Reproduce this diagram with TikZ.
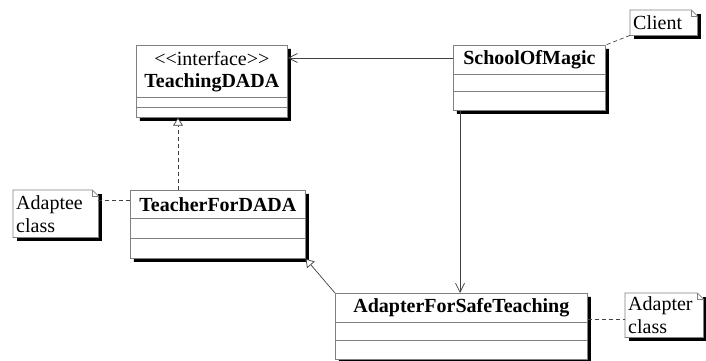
\documentclass[tikz,border=0pt]{standalone}
\usepackage{fontspec}
\setmainfont{Liberation Serif}
\usetikzlibrary{shapes.multipart,shadows,arrows.meta}

\newcommand{\umlpart}[3]{\parbox[c][#2][c]{#1}{\centering #3}}

\tikzset{
  umlshadow/.style={drop shadow={shadow xshift=3.5pt,shadow yshift=-3.5pt,fill=black,opacity=1}},
  umlclass/.style={rectangle split, rectangle split parts=3, draw=black!50, line width=.7pt,
    fill=white, inner sep=0pt, anchor=north west, umlshadow,
    font=\fontsize{20}{22}\selectfont\bfseries},
  umlnote/.style={rectangle, fill=white, inner xsep=3pt, inner ysep=0pt, anchor=north west,
    align=left, umlshadow, font=\fontsize{20}{23}\selectfont},
  noteedge/.style={draw=black!50, line width=.7pt},
  assoc/.style={draw=black!75, line width=.7pt, -{Straight Barb[length=9pt,width=9pt]}},
  realize/.style={draw=black!75, line width=.7pt, dash pattern=on 4pt off 3pt,
    -{Triangle[open,fill=white,length=8pt,width=10pt]}},
  inherit/.style={draw=black!75, line width=.7pt, -{Triangle[open,fill=white,length=8pt,width=10pt]}},
  anchorline/.style={draw=black!75, line width=.7pt, dash pattern=on 4pt off 3pt}
}

\begin{document}
\begin{tikzpicture}[x=1pt,y=-1pt]
 \useasboundingbox (0,0) rectangle (706,360);

 % classes
 \node[umlclass] (dada) at (136,45)
  {\umlpart{151pt}{51pt}{\textmd{<{}<interface>{}>}\\ TeachingDADA}
   \nodepart{two}\umlpart{151pt}{9pt}{}
   \nodepart{three}\umlpart{151pt}{8pt}{}};
 \node[umlclass] (school) at (453,45)
  {\umlpart{152pt}{28pt}{SchoolOfMagic}
   \nodepart{two}\umlpart{152pt}{17pt}{}
   \nodepart{three}\umlpart{152pt}{18pt}{}};
 \node[umlclass] (teacher) at (130,190)
  {\umlpart{175pt}{27pt}{TeacherForDADA}
   \nodepart{two}\umlpart{175pt}{20pt}{}
   \nodepart{three}\umlpart{175pt}{19pt}{}};
 \node[umlclass] (adapter) at (335,293)
  {\umlpart{252pt}{28pt}{AdapterForSafeTeaching}
   \nodepart{two}\umlpart{252pt}{18pt}{}
   \nodepart{three}\umlpart{252pt}{18pt}{}};

 % notes
 \node[umlnote, text width=61pt, minimum height=25pt] (client) at (630,10) {Client};
 \node[umlnote, text width=79pt, minimum height=47pt] (adaptee) at (13,190) {Adaptee\\class};
 \node[umlnote, text width=72pt, minimum height=44pt] (adapternote) at (625,293) {Adapter\\class};
 \foreach \n in {client,adaptee,adapternote} {
  \draw[noteedge] (\n.north west) -- ([xshift=-6pt]\n.north east) -- ([yshift=-6pt]\n.north east)
   -- (\n.south east) -- (\n.south west) -- cycle;
  \draw[noteedge] ([xshift=-6pt]\n.north east) |- ([yshift=-6pt]\n.north east);
 }

 % connectors
 \coordinate (s1) at ([yshift=-13pt]school.north west);
 \draw[assoc] (s1) -- (s1 -| dada.east);
 \coordinate (s2) at ([xshift=7pt]school.south west);
 \draw[assoc] (s2) -- (s2 |- adapter.north);
 \coordinate (t1) at ([xshift=48pt]teacher.north west);
 \draw[realize] (t1) -- (t1 |- dada.south);
 \draw[inherit] (adapter.north west) -- (teacher.south east);

 \draw[anchorline] (client.south west) -- (school.north east);
 \coordinate (t2) at ([yshift=-10pt]teacher.north west);
 \draw[anchorline] (t2) -- (t2 -| adaptee.east);
 \coordinate (a1) at ([yshift=-26pt]adapter.north east);
 \draw[anchorline] (a1) -- (a1 -| adapternote.west);
\end{tikzpicture}
\end{document}
